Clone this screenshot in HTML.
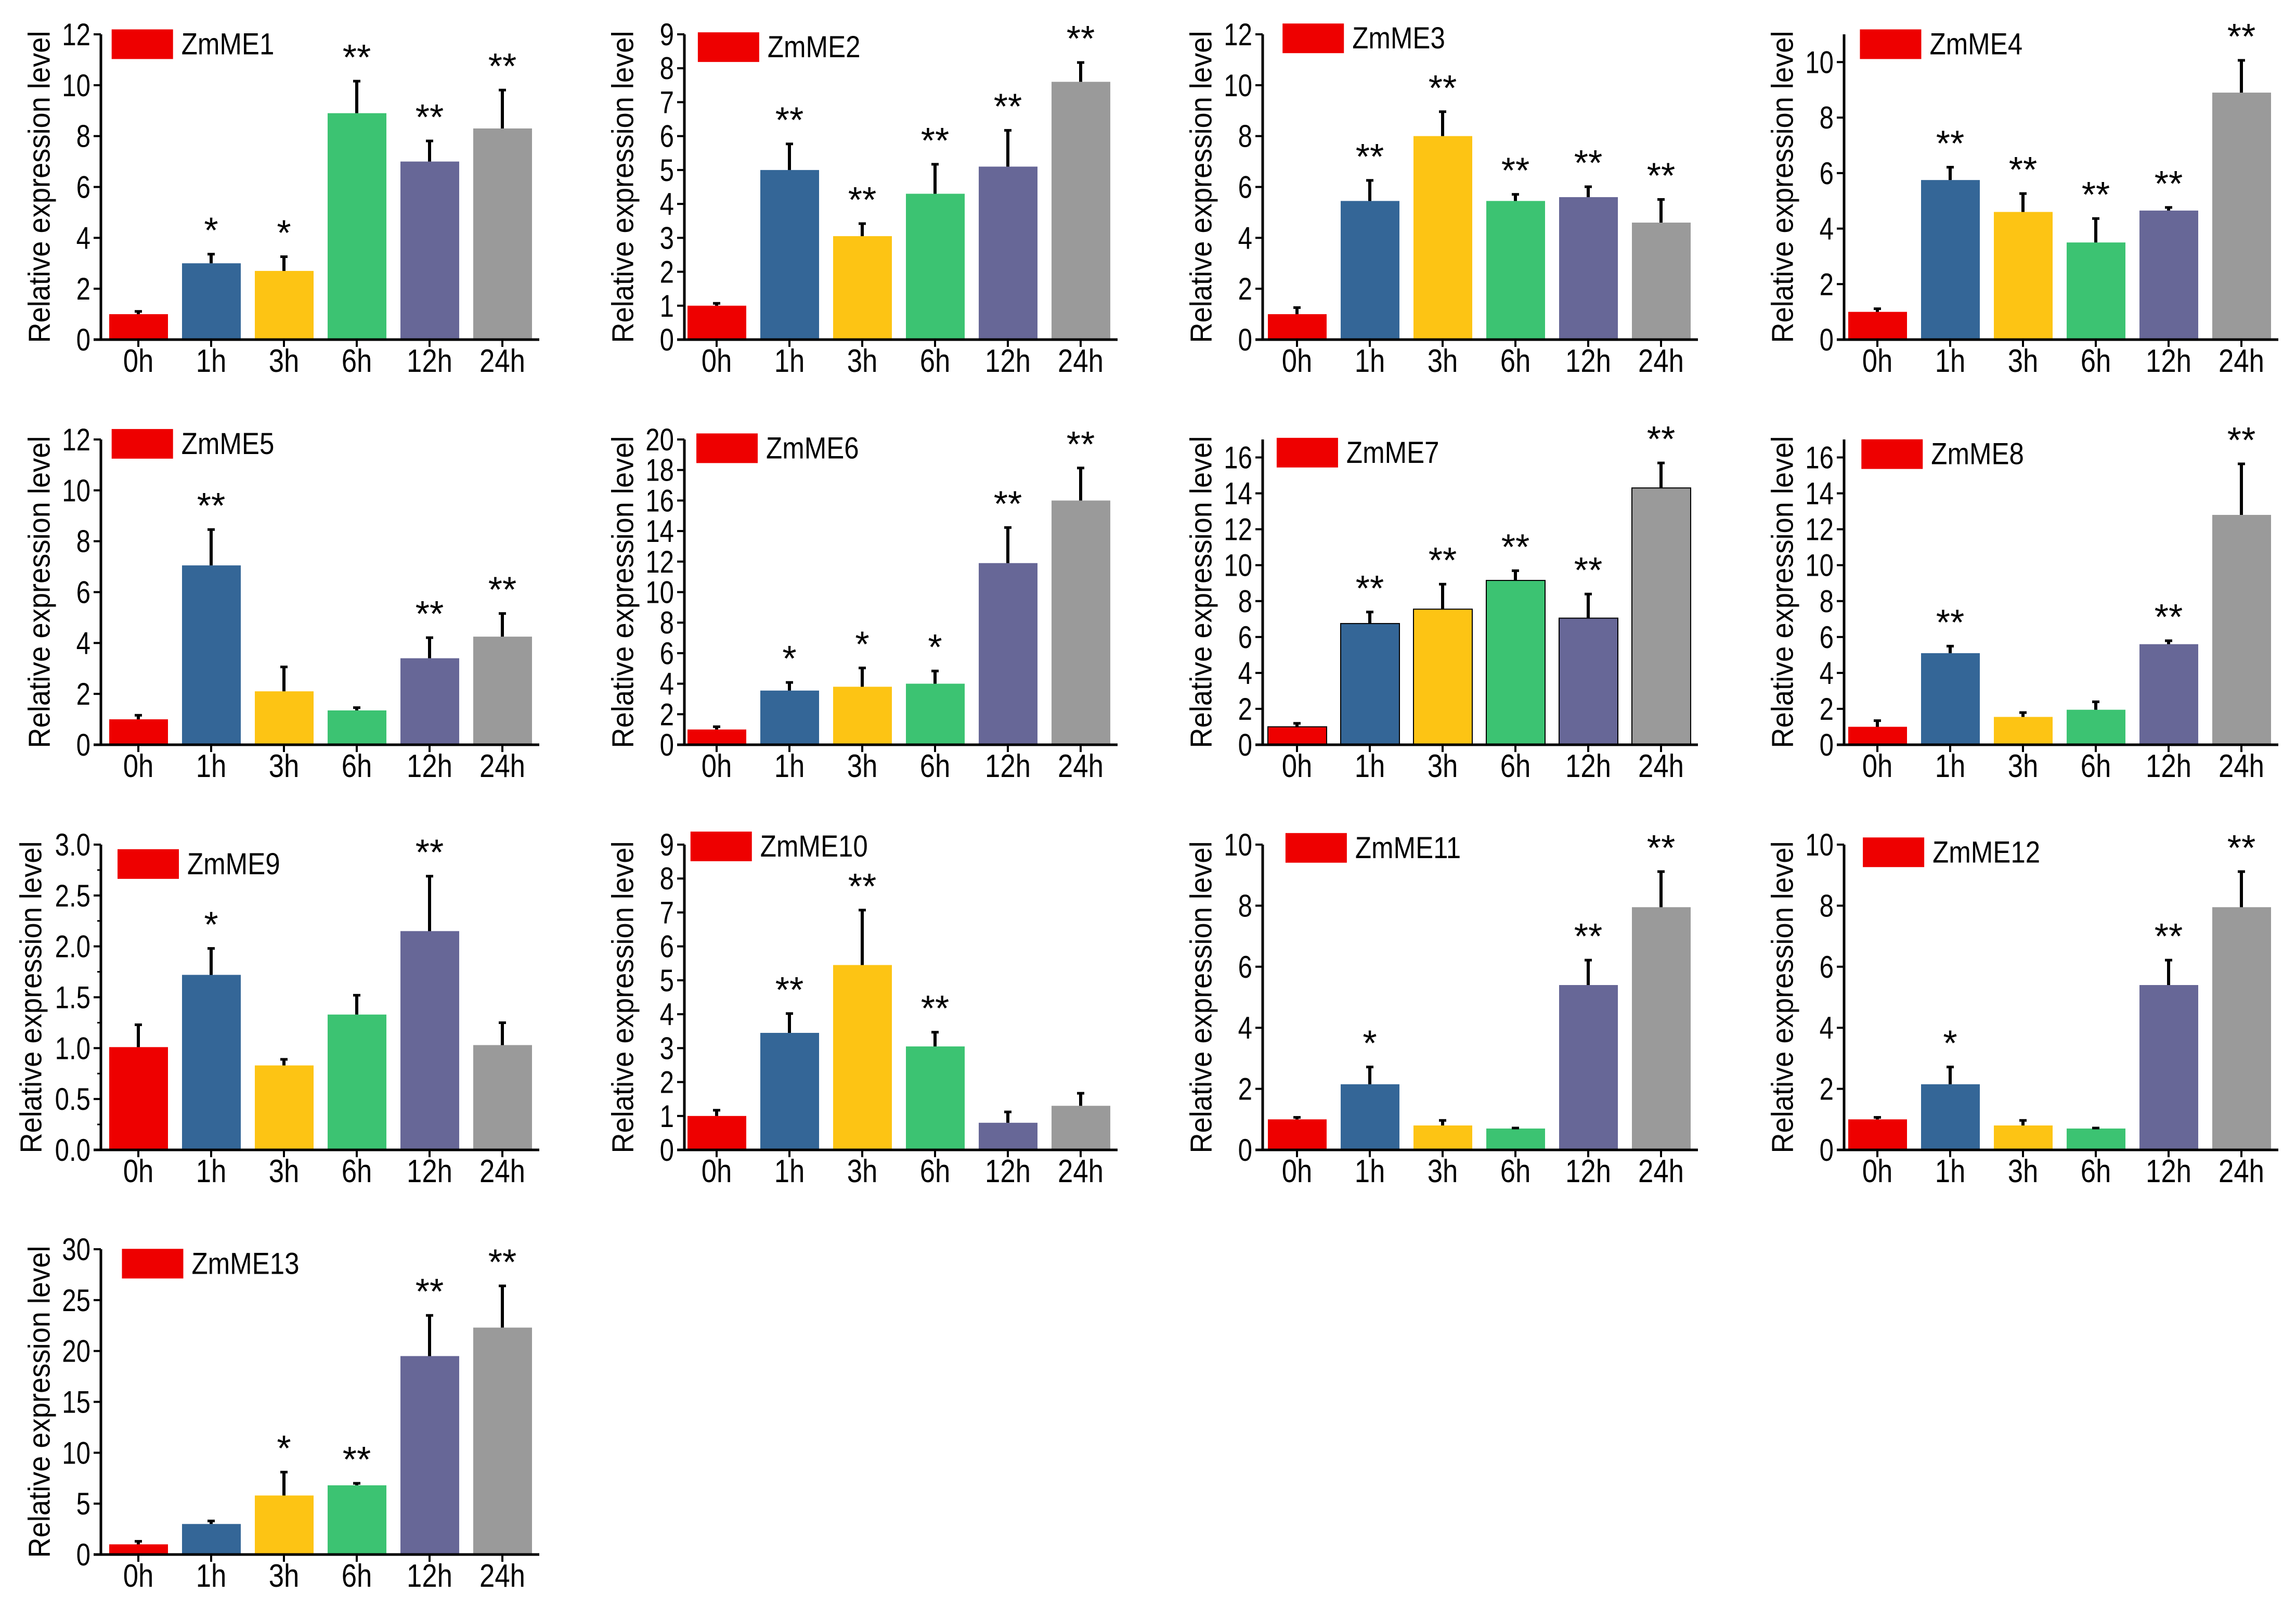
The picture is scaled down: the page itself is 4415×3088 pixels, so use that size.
<!DOCTYPE html>
<html><head><meta charset="utf-8"><style>
html,body{margin:0;padding:0;background:#fff;}
svg{display:block;}
text{font-family:"Liberation Sans",Arial,sans-serif;fill:#000;}
</style></head><body>
<svg id="fig" width="4415" height="3088" viewBox="0 0 4415 3088" xmlns="http://www.w3.org/2000/svg"></svg>
<script>
const categories = ["0h","1h","3h","6h","12h","24h"];
const geneNames = ["ZmME1","ZmME2","ZmME3","ZmME4","ZmME5","ZmME6","ZmME7","ZmME8","ZmME9","ZmME10","ZmME11","ZmME12","ZmME13"];
const yMax = [12,9,12,11,12,20,17,17,3.0,9,10,10,30];
const yStep = [2,1,2,2,2,2,2,2,0.5,1,2,2,5];
const meanValues = [
  [1.0,3.0,2.7,8.9,7.0,8.3],
  [1.0,5.0,3.05,4.3,5.1,7.6],
  [1.0,5.45,8.0,5.45,5.6,4.6],
  [1.0,5.75,4.6,3.5,4.65,8.9],
  [1.0,7.05,2.1,1.35,3.4,4.25],
  [1.0,3.55,3.8,4.0,11.9,16.0],
  [1.0,6.75,7.55,9.15,7.05,14.3],
  [1.0,5.1,1.55,1.95,5.6,12.8],
  [1.01,1.72,0.83,1.33,2.15,1.03],
  [1.0,3.45,5.45,3.05,0.8,1.3],
  [1.0,2.15,0.8,0.7,5.4,7.95],
  [1.0,2.15,0.8,0.7,5.4,7.95],
  [1.0,3.0,5.8,6.8,19.5,22.3]
];
const errorTops = [
  [1.15,3.4,3.3,10.2,7.85,9.85],
  [1.1,5.8,3.45,5.2,6.2,8.2],
  [1.3,6.3,9.0,5.75,6.05,5.55],
  [1.15,6.25,5.3,4.4,4.8,10.1],
  [1.2,8.5,3.1,1.5,4.25,5.2],
  [1.25,4.15,5.1,4.9,14.3,18.2],
  [1.25,7.45,9.0,9.75,8.45,15.75],
  [1.4,5.55,1.85,2.45,5.85,15.7],
  [1.24,1.99,0.9,1.53,2.7,1.26],
  [1.2,4.05,7.1,3.5,1.15,1.7],
  [1.1,2.75,1.0,0.75,6.25,9.15],
  [1.1,2.75,1.0,0.75,6.25,9.15],
  [1.4,3.4,8.2,7.1,23.6,26.5]
];
const significance = [
  ["","*","*","**","**","**"],
  ["","**","**","**","**","**"],
  ["","**","**","**","**","**"],
  ["","**","**","**","**","**"],
  ["","**","","","**","**"],
  ["","*","*","*","**","**"],
  ["","**","**","**","**","**"],
  ["","**","","","**","**"],
  ["","*","","","**",""],
  ["","**","**","**","",""],
  ["","*","","","**","**"],
  ["","*","","","**","**"],
  ["","","*","**","**","**"]
];
const barColors = ["#EE0000","#346697","#FDC414","#3CC372","#676797","#9A9A9A"];

const NS = "http://www.w3.org/2000/svg";
const svg = document.getElementById("fig");
const colX = [194,1316,2428,3546];
const colBarOffset = [72,62,66,64];
const rowZero = [653,1432,2211,2989];
const legendPos = [[76,20],[475,22],[873,16],[1266,20],[76,292],[474,295],[869,298],[1267,299],[80,578],[470,566],[875,567],[1268,570],[83,850]];
const AXH = 587;

function mk(tag, attrs, parent){
  const e = document.createElementNS(NS, tag);
  for (const k in attrs) e.setAttribute(k, attrs[k]);
  parent.appendChild(e);
  return e;
}

geneNames.forEach((gene, p) => {
  const c = p % 4;
  const ax = colX[c];
  const off = colBarOffset[c];
  const zy = rowZero[Math.floor(p / 4)];
  const top = zy - AXH;
  const yScale = v => zy - v / yMax[p] * AXH;
  const xCenter = i => ax + off + i * 140;
  const g = mk("g", {}, svg);
  
  

  meanValues[p].forEach((v, i) => {
    const r = mk("rect", {x: xCenter(i) - 56, y: yScale(v), width: 113, height: zy - yScale(v), fill: barColors[i]}, g);
    if (p === 6) { r.setAttribute("stroke", "#000"); r.setAttribute("stroke-width", "2"); }
    
    
    const et = yScale(errorTops[p][i]);
    const eb = mk("line", {x1: xCenter(i), x2: xCenter(i), y1: yScale(v), y2: et, stroke: "#000", "stroke-width": 6}, g);
    
    
    mk("line", {x1: xCenter(i) - 7, x2: xCenter(i) + 7, y1: et + 2, y2: et + 2, stroke: "#000", "stroke-width": 5}, g);
    const s = significance[p][i];
    if (s) {
      const t = mk("text", {x: xCenter(i), y: et - 20, "font-size": 70, "text-anchor": "middle"}, g);
      t.textContent = s;
      
      
    }
  });

  const ya = mk("line", {x1: ax, x2: ax, y1: top, y2: zy + 2, stroke: "#000", "stroke-width": 5}, g);
  
  
  const xa = mk("line", {x1: ax - 14, x2: ax + off + 771, y1: zy, y2: zy, stroke: "#000", "stroke-width": 5}, g);
  
  

  const nT = Math.round(yMax[p] / yStep[p] + 1e-6);
  for (let k = 0; k <= nT; k++) {
    const v = k * yStep[p];
    if (v > yMax[p] + 1e-6) break;
    const y = yScale(v);
    mk("line", {x1: ax - 14, x2: ax, y1: y, y2: y, stroke: "#000", "stroke-width": 4}, g);
    const lbl = yStep[p] < 1 ? v.toFixed(1) : String(v);
    const t = mk("text", {transform: "translate(" + (ax - 20) + "," + (y + 21) + ") scale(0.82,1)", "font-size": 60, "text-anchor": "end"}, g);
    t.textContent = lbl;
    
    
    if (p === 8 && k < nT) {
      mk("line", {x1: ax - 7, x2: ax, y1: yScale(v + yStep[p] / 2), y2: yScale(v + yStep[p] / 2), stroke: "#000", "stroke-width": 3}, g);
    }
  }
  categories.forEach((cat, i) => {
    mk("line", {x1: xCenter(i), x2: xCenter(i), y1: zy, y2: zy + 14, stroke: "#000", "stroke-width": 4}, g);
    const t = mk("text", {transform: "translate(" + xCenter(i) + "," + (zy + 62) + ") scale(0.85,1)", "font-size": 62, "text-anchor": "middle"}, g);
    t.textContent = cat;
    
    
  });

  const yl = ax - (p === 8 ? 134 : 118);
  const yt = mk("text", {transform: "translate(" + yl + "," + (zy - AXH / 2) + ") rotate(-90)", "font-size": 58, "text-anchor": "middle", textLength: 600, lengthAdjust: "spacingAndGlyphs", "dominant-baseline": "central"}, g);
  yt.textContent = "Relative expression level";
  
  

  const lx = legendPos[p][0] * 2.825, ly = legendPos[p][1] * 2.825;
  const lr = mk("rect", {x: lx, y: ly, width: 118, height: 57, fill: "#EE0000"}, g);
  
  
  const lt = mk("text", {transform: "translate(" + (lx + 134) + "," + (ly + 48) + ") scale(0.88,1)", "font-size": 58}, g);
  lt.textContent = gene;
  
  
});
</script>
</body></html>
